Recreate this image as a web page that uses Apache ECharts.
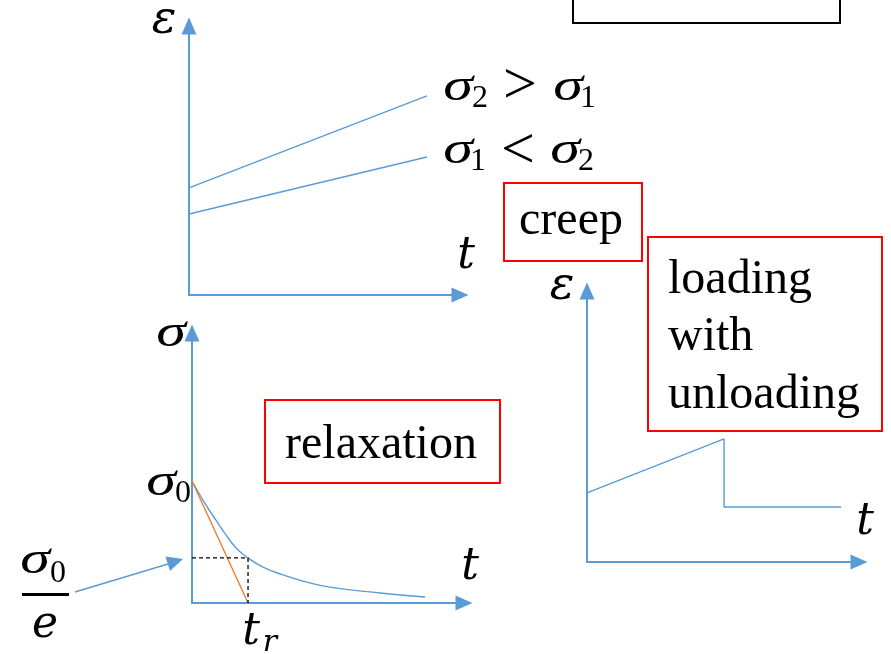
<!DOCTYPE html>
<html>
<head>
<meta charset="utf-8">
<script src="https://cdn.jsdelivr.net/npm/echarts@6/dist/echarts.min.js"></script>
<style>
  html, body { margin: 0; padding: 0; background: #fff; }
  #chart { width: 891px; height: 654px; }
</style>
</head>
<body>
<div id="chart"></div>
<script>
// creep: strain vs time for two stress levels
const creepTime = [0, 87.8]
const creepSigma2 = [39.8, 74.0]
const creepSigma1 = [30.1, 51.3]

// relaxation: stress vs time
const relaxTime = [0, 5.1, 8.8, 12.5, 16.2, 20.6, 26.1, 33.5, 40.8, 50.7, 69.1, 85.7]
const relaxStress = [45.2, 36.3, 30.7, 25.2, 20.4, 16.7, 13.3, 10.4, 8.1, 5.9, 3.7, 2.2]
const tangentTime = [0, 20.6]
const tangentStress = [45.2, 0]
const guideTime = [0, 20.6, 20.6]
const guideStress = [16.7, 16.7, 0]

// loading with unloading: strain vs time
const loadTime = [0, 50.4, 50.4, 93.4]
const loadStrain = [25.5, 45.4, 20.3, 20.3]

const BLUE = '#5B9BD5'
const ORANGE = '#ED7D31'
const MATH = 'italic 44px "DejaVu Serif"'
const SIGMA = 'italic 47px "Liberation Serif"'
const SUB = '32px "Liberation Serif"'
const REL = '60px "Liberation Serif"'
const WORD = '48px "Liberation Serif"'

const pairs = (xs, ys) => xs.map((x, i) => [x, ys[i]])

const axisBase = (gridIndex) => ({
  type: 'value',
  gridIndex,
  min: 0,
  max: 100,
  axisLine: {
    show: true,
    symbol: ['none', 'triangle'],
    symbolSize: [15, 17],
    lineStyle: { color: BLUE, width: 2 }
  },
  axisTick: { show: false },
  axisLabel: { show: false },
  splitLine: { show: false }
})

const lineSeries = (x, y, data, color, extra = {}) => ({
  type: 'line',
  xAxisIndex: x,
  yAxisIndex: y,
  data,
  symbol: 'none',
  silent: true,
  lineStyle: { color, width: 1.4, ...(extra.lineStyle || {}) },
  smooth: extra.smooth || false
})

const txt = (text, x, y, font, align = 'center', sx = 1) => ({
  type: 'text',
  x,
  y,
  scaleX: sx,
  style: { text, x: 0, y: 0, font, fill: '#000', textAlign: align, textVerticalAlign: 'middle' }
})

// sigma is drawn a little wider to match the math font of the original
const sig = (x, y) => txt('σ', x, y, SIGMA, 'center', 1.28)

const box = (x, y, w, h, color) => ({
  type: 'rect',
  shape: { x, y, width: w, height: h },
  style: { fill: 'none', stroke: color, lineWidth: 2 }
})

const chart = echarts.init(document.getElementById('chart'))

chart.setOption({
  animation: false,
  backgroundColor: '#fff',
  grid: [
    { left: 189, top: 26, width: 271, height: 269 },
    { left: 192, top: 333, width: 272, height: 270 },
    { left: 587, top: 291, width: 272, height: 271 }
  ],
  xAxis: [axisBase(0), axisBase(1), axisBase(2)],
  yAxis: [axisBase(0), axisBase(1), axisBase(2)],
  series: [
    lineSeries(0, 0, pairs(creepTime, creepSigma2), BLUE),
    lineSeries(0, 0, pairs(creepTime, creepSigma1), BLUE),
    lineSeries(1, 1, pairs(relaxTime, relaxStress), BLUE, { smooth: true }),
    lineSeries(1, 1, pairs(tangentTime, tangentStress), ORANGE),
    lineSeries(1, 1, pairs(guideTime, guideStress), '#000', { lineStyle: { type: [4, 3], width: 1.3 } }),
    lineSeries(2, 2, pairs(loadTime, loadStrain), BLUE)
  ],
  graphic: [
    // boxes
    box(573, -4, 267, 27, '#000'),
    box(504, 183, 138, 78, '#FF0000'),
    box(648, 237, 234, 194, '#FF0000'),
    box(265, 400, 235, 83, '#FF0000'),
    txt('creep', 571, 221, WORD),
    txt('loading', 668, 280, WORD, 'left'),
    txt('with', 668, 337, WORD, 'left'),
    txt('unloading', 668, 395, WORD, 'left'),
    txt('relaxation', 381, 445, WORD),

    // creep plot labels
    txt('ε', 164, 21, 'italic 46px "DejaVu Serif"'),
    txt('t', 466, 257, MATH),
    sig(458, 88),
    txt('2', 480, 99, SUB),
    txt('>', 520, 87, REL),
    sig(568, 88),
    txt('1', 588, 99, SUB),
    sig(458, 151),
    txt('1', 478, 162, SUB),
    txt('<', 518, 152, REL),
    sig(565, 151),
    txt('2', 586, 162, SUB),

    // relaxation plot labels
    sig(171, 334),
    sig(161, 483),
    txt('0', 183, 494, SUB),
    sig(35, 561),
    txt('0', 58, 574, SUB),
    { type: 'rect', shape: { x: 22, y: 593, width: 47, height: 3 }, style: { fill: '#000' } },
    txt('e', 45, 626, MATH),
    txt('t', 470, 568, MATH),
    txt('t', 251, 633, MATH),
    txt('r', 270, 643, 'italic 30px "DejaVu Serif"'),
    { type: 'line', shape: { x1: 75, y1: 592, x2: 168, y2: 564 }, style: { stroke: BLUE, lineWidth: 1.4 } },
    { type: 'polygon', shape: { points: [[183, 559], [170, 571], [165.5, 556.5]] }, style: { fill: BLUE } },

    // loading plot labels
    txt('ε', 562, 287, 'italic 46px "DejaVu Serif"'),
    txt('t', 865, 523, MATH)
  ]
})
</script>
</body>
</html>
